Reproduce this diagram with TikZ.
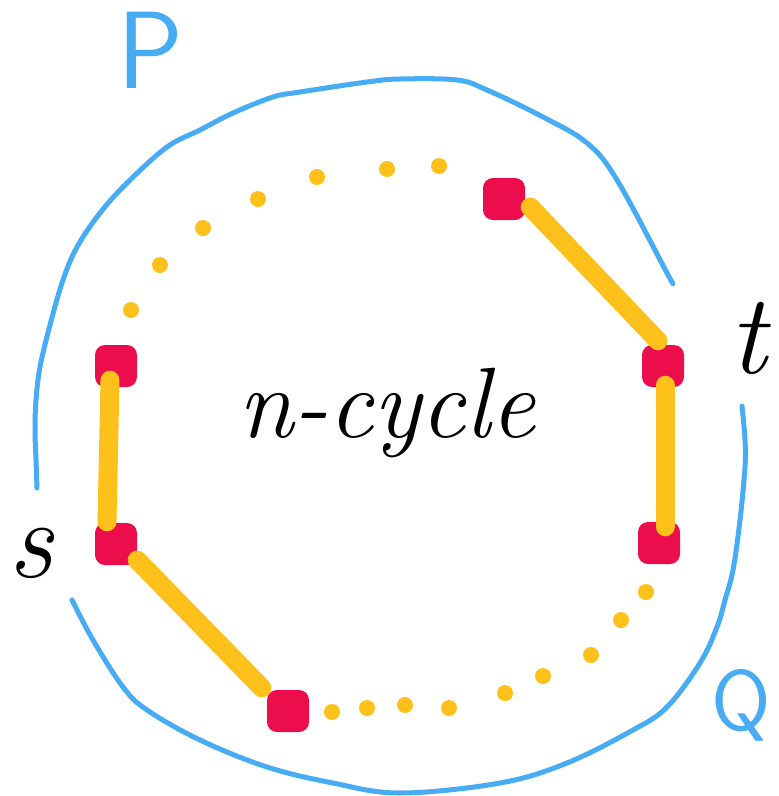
\documentclass[tikz,border=0pt]{standalone}
\usepackage{fontspec}
\definecolor{penblue}{RGB}{72,172,245}
\definecolor{penred}{RGB}{236,14,76}
\definecolor{penyellow}{RGB}{254,192,26}
\begin{document}
\begin{tikzpicture}[x=1pt,y=-1pt,
  vbox/.style={fill=penred, draw=none, rounded corners=10pt, minimum width=42pt, minimum height=42pt, inner sep=0pt},
  edgey/.style={draw=penyellow, line width=19pt, line cap=round},
  walk/.style={draw=penblue, line width=5pt, line cap=round, line join=round},
  dotc/.style={fill=penyellow},
  lbl/.style={inner sep=0pt, anchor=base}]
\useasboundingbox (0,0) rectangle (779,796);

% walks P and Q
\draw[walk] plot[smooth, tension=0.6] coordinates {(37,488) (36,460) (35,430) (36,400) (40,367) (50,325) (63,280) (77,247) (100,213) (127,183) (167,147) (200,130) (233,113) (273,97) (300,92) (367,82) (400,79) (457,80) (487,90) (543,117) (587,143) (617,180) (667,273) (672,282)};
\draw[walk] plot[smooth, tension=0.6] coordinates {(742,406) (745,440) (745,467) (740,520) (733,570) (725,600) (717,627) (700,663) (667,707) (633,730) (567,763) (500,783) (400,793) (333,783) (267,767) (200,740) (147,710) (123,687) (93,640) (72,600)};

% vertices
\node[vbox] (top) at (504,199) {};
\node[vbox] (t) at (663,366) {};
\node[vbox] (lt) at (116,366) {};
\node[vbox] (s) at (116,544) {};
\node[vbox] (br) at (659,543) {};
\node[vbox] (b) at (288,711) {};

% edges
\draw[edgey] ([shift={(5,8)}]top.east) -- ([shift={(-5,-4)}]t.north);
\draw[edgey] ([shift={(2,-2)}]t.south) -- ([shift={(6,5)}]br.north);
\draw[edgey] ([shift={(-6,-7)}]lt.south) -- ([shift={(-9,-1)}]s.north);
\draw[edgey] ([shift={(0,16)}]s.east) -- ([shift={(-5,-2)}]b.north west);

% dotted parts of the cycle
\foreach \p in {(131,310),(160,265),(203,228),(258,199),(317,177),(387,169),(439,166)}
  \fill[dotc] \p circle (8);
\foreach \p in {(332,712),(367,708),(405,705),(449,708),(505,693),(543,676),(591,655),(621,620),(646,592)}
  \fill[dotc] \p circle (8);

% labels
\node[lbl, anchor=base west] (cyc) at (238,437) {\fontsize{100}{120}\selectfont\itshape n-cycle};
\node[lbl] (slab) at (31,577) {\fontsize{112}{130}\selectfont\itshape s};
\node[lbl] (tlab) at (748,373) {\fontsize{114}{130}\selectfont\itshape t};
\node[lbl, text=penblue] (plab) at (150,88) {\fontsize{110}{130}\selectfont\sffamily P};
\node[lbl, text=penblue] (qlab) at (741,730) {\fontsize{86}{100}\selectfont\sffamily Q};
\end{tikzpicture}
\end{document}
